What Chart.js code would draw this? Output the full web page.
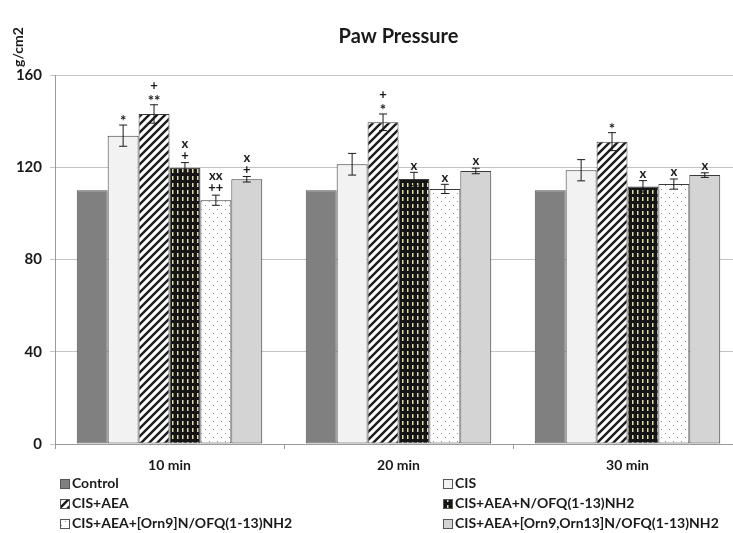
<!DOCTYPE html>
<html>
<head>
<meta charset="utf-8">
<script src="https://cdn.jsdelivr.net/npm/chart.js@4/dist/chart.umd.min.js"></script>
<style>
  html, body { margin: 0; padding: 0; background: #fff; overflow: hidden; }
  #wrap { width: 745px; height: 533px; }
</style>
</head>
<body>
<div id="wrap"><canvas id="c" width="745" height="533"></canvas></div>
<script>
// Time points after injection
const timePoints = ['10 min', '20 min', '30 min'];

// Group names
const groupNames = [
  'Control',
  'CIS',
  'CIS+AEA',
  'CIS+AEA+N/OFQ(1-13)NH2',
  'CIS+AEA+[Orn9]N/OFQ(1-13)NH2',
  'CIS+AEA+[Orn9,Orn13]N/OFQ(1-13)NH2'
];

// Mean paw pressure threshold (g/cm2)
const controlMean = [110, 110, 110];
const cisMean = [133.7, 121.3, 118.7];
const aeaMean = [143.1, 139.5, 131.1];
const nofqMean = [119.8, 114.9, 111.7];
const orn9Mean = [105.7, 110.6, 112.7];
const orn913Mean = [114.8, 118.4, 116.6];

// Standard error of the mean
const controlErr = [0, 0, 0];
const cisErr = [4.6, 4.7, 4.6];
const aeaErr = [4.0, 3.6, 3.9];
const nofqErr = [2.2, 2.9, 2.5];
const orn9Err = [2.2, 2.0, 2.2];
const orn913Err = [1.2, 1.2, 1.0];

// Significance marks, listed from the bar upwards
const controlMarks = [[], [], []];
const cisMarks = [['*'], [], []];
const aeaMarks = [['**', '+'], ['*', '+'], ['*']];
const nofqMarks = [['+', 'x'], ['x'], ['x']];
const orn9Marks = [['++', 'xx'], ['x'], ['x']];
const orn913Marks = [['+', 'x'], ['x'], ['x']];

// Y axis ticks
const yTicks = [0, 40, 80, 120, 160];

const chartTitle = 'Paw Pressure';
const unitLabel = 'g/cm2';

const FONT = 'Lato, "Open Sans", sans-serif';
const cv = document.getElementById('c');
const ctx = cv.getContext('2d');

function tile(w, h, draw) {
  const t = document.createElement('canvas');
  t.width = w; t.height = h;
  draw(t.getContext('2d'), w, h);
  return ctx.createPattern(t, 'repeat');
}

const stripeFill = tile(8, 8, (g, w, h) => {
  g.fillStyle = '#ffffff'; g.fillRect(0, 0, w, h);
  g.strokeStyle = '#1c1c1c'; g.lineWidth = 2.4;
  g.beginPath();
  g.moveTo(-2, 10); g.lineTo(10, -2);
  g.moveTo(-6, 6); g.lineTo(6, -6);
  g.moveTo(2, 14); g.lineTo(14, 2);
  g.stroke();
});

const darkDashFill = tile(5, 7, (g, w, h) => {
  g.fillStyle = '#151515'; g.fillRect(0, 0, w, h);
  g.fillStyle = '#e2dcb0'; g.fillRect(2, 1, 1.5, 4);
});

const dotFill = tile(8, 8, (g, w, h) => {
  g.fillStyle = '#ffffff'; g.fillRect(0, 0, w, h);
  g.fillStyle = '#8a8a8a';
  g.fillRect(1, 1, 1, 1);
  g.fillRect(5, 5, 1, 1);
});

const fills = ['#808080', '#f2f2f2', stripeFill, darkDashFill, dotFill, '#d4d4d4'];
const means = [controlMean, cisMean, aeaMean, nofqMean, orn9Mean, orn913Mean];
const errs = [controlErr, cisErr, aeaErr, nofqErr, orn9Err, orn913Err];
const marks = [controlMarks, cisMarks, aeaMarks, nofqMarks, orn9Marks, orn913Marks];

const datasets = groupNames.map((name, i) => ({
  label: name,
  data: means[i],
  backgroundColor: fills[i],
  borderColor: i === 0 ? '#505050' : '#3a3a3a',
  borderWidth: 1,
  borderSkipped: false,
  categoryPercentage: 0.81,
  barPercentage: 1.0
}));

// Error bars and significance marks above each bar
const errorBars = {
  id: 'errorBars',
  afterDatasetsDraw(chart) {
    const g = chart.ctx;
    const y = chart.scales.y;
    g.save();
    chart.data.datasets.forEach((ds, i) => {
      const meta = chart.getDatasetMeta(i);
      meta.data.forEach((bar, j) => {
        const m = means[i][j], e = errs[i][j];
        let top = y.getPixelForValue(m);
        if (e > 0) {
          const yHi = y.getPixelForValue(m + e);
          const yLo = y.getPixelForValue(m - e);
          g.strokeStyle = '#1a1a1a';
          g.lineWidth = 1;
          g.beginPath();
          g.moveTo(bar.x, yHi); g.lineTo(bar.x, yLo);
          g.moveTo(bar.x - 4, yHi); g.lineTo(bar.x + 4, yHi);
          g.moveTo(bar.x - 4, yLo); g.lineTo(bar.x + 4, yLo);
          g.stroke();
          top = yHi;
        }
        g.fillStyle = '#1a1a1a';
        g.textAlign = 'center';
        g.textBaseline = 'middle';
        marks[i][j].forEach((s, k) => {
          const star = s.indexOf('*') >= 0;
          g.font = 'bold ' + (star ? 15 : 13) + 'px ' + FONT;
          g.fillText(s, bar.x, top - 7 - k * 12 + (star ? 3 : 0));
        });
      });
    });
    g.restore();
  }
};

// Title, unit label and two-column legend
const decorations = {
  id: 'decorations',
  afterDraw(chart) {
    const g = chart.ctx;
    const a = chart.chartArea;
    g.save();
    g.fillStyle = '#1a1a1a';
    g.font = 'bold 20px ' + FONT;
    g.textAlign = 'center';
    g.textBaseline = 'middle';
    g.fillText(chartTitle, (a.left + a.right) / 2, 37);

    g.save();
    g.translate(18, 47);
    g.rotate(-Math.PI / 2);
    g.font = 'bold 14px ' + FONT;
    g.fillText(unitLabel, 0, 0);
    g.restore();

    const colX = [60, 443];
    const rowY = [483, 503, 523];
    g.font = 'bold 14px ' + FONT;
    g.textAlign = 'left';
    chart.data.datasets.forEach((ds, i) => {
      const x = colX[i % 2];
      const yy = rowY[Math.floor(i / 2)];
      g.fillStyle = ds.backgroundColor;
      g.fillRect(x, yy - 4, 9, 9);
      g.strokeStyle = '#555';
      g.lineWidth = 1;
      g.strokeRect(x + 0.5, yy - 3.5, 9, 9);
      g.fillStyle = '#1a1a1a';
      g.fillText(ds.label, x + 12, yy);
    });
    g.restore();
  }
};

new Chart(cv, {
  type: 'bar',
  data: { labels: timePoints, datasets },
  options: {
    responsive: false,
    animation: false,
    devicePixelRatio: 1,
    layout: { padding: { top: 75, right: 3, left: 0, bottom: 0 } },
    plugins: {
      legend: { display: false },
      title: { display: false },
      tooltip: { enabled: false }
    },
    scales: {
      x: {
        offset: true,
        grid: { display: true, drawOnChartArea: false, offset: true, tickLength: 5, color: '#9a9a9a' },
        border: { color: '#9a9a9a' },
        ticks: { color: '#1a1a1a', font: { family: FONT, size: 14, weight: 'bold' }, padding: 8 },
        afterFit(s) { s.height = 89; }
      },
      y: {
        min: 0,
        max: 160,
        afterBuildTicks(s) { s.ticks = yTicks.map(v => ({ value: v })); },
        grid: { color: '#c4c4c4', tickLength: 5 },
        border: { color: '#9a9a9a' },
        ticks: { color: '#1a1a1a', font: { family: FONT, size: 15, weight: 'bold' }, padding: 8 },
        afterFit(s) { s.width = 55; }
      }
    }
  },
  plugins: [errorBars, decorations]
});
</script>
</body>
</html>
